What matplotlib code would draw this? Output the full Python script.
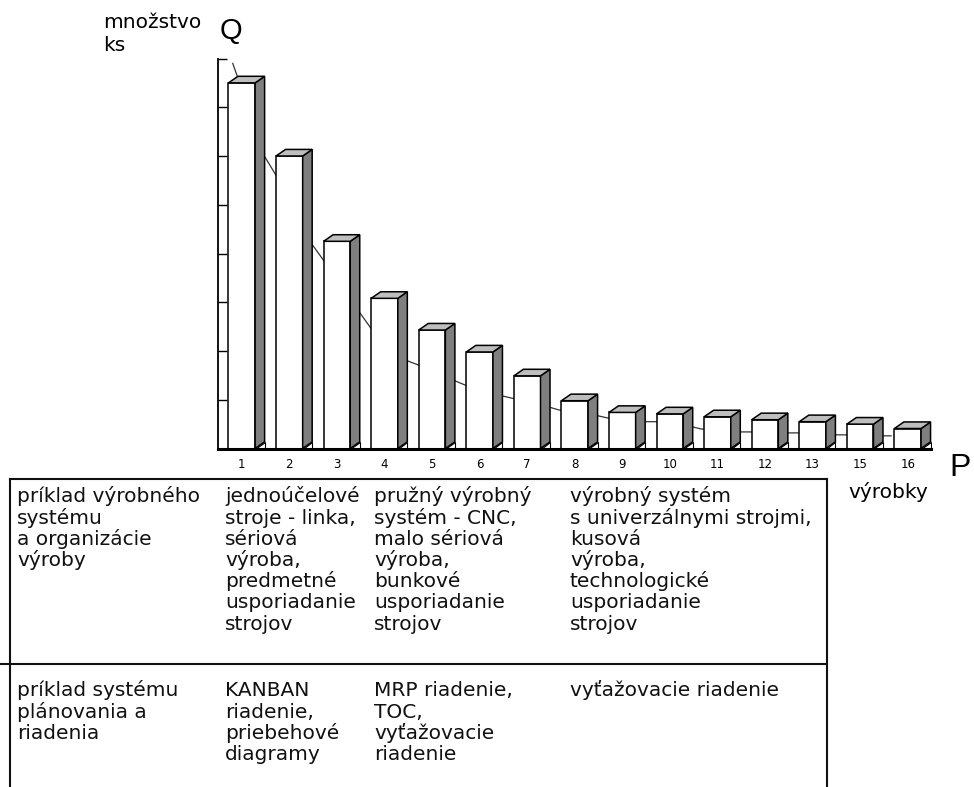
import numpy as np
import matplotlib
matplotlib.use("Agg")
import matplotlib.pyplot as plt
from matplotlib.patches import Polygon
from matplotlib.lines import Line2D

W, H = 974, 787  # canvas size in pixels

# products on the horizontal axis and their quantities (in tick units)
products = ["1", "2", "3", "4", "5", "6", "7", "8", "9", "10", "11", "12", "13", "15", "16"]
quantity = [7.5, 6.0, 4.25, 3.08, 2.43, 1.98, 1.49, 0.98, 0.74, 0.71, 0.65, 0.59, 0.55, 0.50, 0.41]

# trend curve running behind the bars
curve_x = [-0.19, -0.10, 0.48, 0.71, 1.49, 1.72, 2.47, 2.72, 3.45, 3.72, 4.45, 4.70,
           5.47, 5.69, 6.46, 6.67, 7.40, 7.72, 8.34, 8.70, 9.45, 9.66, 10.44, 10.68,
           11.45, 11.70, 12.43, 12.68, 13.44, 13.65]
curve_y = [7.90, 7.65, 5.99, 5.62, 4.17, 3.86, 2.80, 2.46, 1.81, 1.71, 1.40, 1.30,
           1.08, 1.03, 0.85, 0.79, 0.69, 0.62, 0.55, 0.55, 0.45, 0.40, 0.34, 0.34,
           0.32, 0.32, 0.28, 0.28, 0.26, 0.26]

# table under the chart: one list of lines per cell
system_row = [
    ["príklad výrobného", "systému", "a organizácie", "výroby"],
    ["jednoúčelové", "stroje - linka,", "sériová", "výroba,", "predmetné", "usporiadanie", "strojov"],
    ["pružný výrobný", "systém - CNC,", "malo sériová", "výroba,", "bunkové", "usporiadanie", "strojov"],
    ["výrobný systém", "s univerzálnymi strojmi,", "kusová", "výroba,", "technologické",
     "usporiadanie", "strojov"],
]
control_row = [
    ["príklad systému", "plánovania a", "riadenia"],
    ["KANBAN", "riadenie,", "priebehové", "diagramy"],
    ["MRP riadenie,", "TOC,", "vyťažovacie", "riadenie"],
    ["vyťažovacie riadenie"],
]

plt.rcParams["font.family"] = ["DejaVu Sans"]


def fig_xy(x, y):
    """pixel position (from top-left) -> figure fraction"""
    return x / W, 1 - y / H


fig = plt.figure(figsize=(W / 100, H / 100), dpi=100)

# chart area: left spine at x=218, baseline at y=448.5, top at y=58.5
ax = fig.add_axes([218 / W, (H - 448.5) / H, 713.5 / W, 390 / H])
ax.set_xlim(-0.5, 14.5)
ax.set_ylim(0, 8)

x = np.arange(len(products))
bar_w = 0.56
dx, dy = 0.20, 0.135  # depth of the 3d boxes

ax.plot(curve_x, curve_y, color="#333333", lw=0.9, zorder=2)

ax.bar(x, quantity, width=bar_w, color="white", edgecolor="black", linewidth=1.1, zorder=3)
for xi, h in zip(x, quantity):
    xl, xr = xi - bar_w / 2, xi + bar_w / 2
    side = Polygon([(xr, 0), (xr + dx, dy), (xr + dx, h + dy), (xr, h)],
                   closed=True, fc="#7f7f7f", ec="black", lw=1.1, zorder=3)
    top = Polygon([(xl, h), (xr, h), (xr + dx, h + dy), (xl + dx, h + dy)],
                  closed=True, fc="#bebebe", ec="black", lw=1.1, zorder=3)
    foot = Polygon([(xr, 0), (xr + dx, 0), (xr + dx, dy)],
                   closed=True, fc="white", ec="black", lw=0.8, zorder=3)
    ax.add_patch(side)
    ax.add_patch(top)
    ax.add_patch(foot)

for s in ["top", "right"]:
    ax.spines[s].set_visible(False)
ax.spines["left"].set_linewidth(1.3)
ax.spines["bottom"].set_linewidth(2.2)
ax.spines["bottom"].set_zorder(4)

ax.set_yticks(range(1, 9))
ax.tick_params(axis="y", direction="in", length=6.5, width=1.0, labelleft=False)
ax.set_xticks(x, products)
ax.tick_params(axis="x", length=0, pad=6.5, labelsize=8.5)

# axis captions
fig.text(*fig_xy(103, 28), "množstvo", fontsize=14.5, va="baseline")
fig.text(*fig_xy(103, 51), "ks", fontsize=14.5, va="baseline")
fig.text(*fig_xy(220, 38.5), "Q", fontsize=21, family="Liberation Sans", va="baseline")
fig.text(*fig_xy(949, 476), "P", fontsize=23, family="Liberation Sans", va="baseline")
fig.text(*fig_xy(848, 497.5), "výrobky", fontsize=14.5, va="baseline")

# table frame
frame = [
    ((10, 479), (827, 479)),
    ((10, 479), (10, 787)),
    ((827, 479), (827, 787)),
    ((1, 664), (827, 664)),
]
for (x0, y0), (x1, y1) in frame:
    fx0, fy0 = fig_xy(x0, y0)
    fx1, fy1 = fig_xy(x1, y1)
    fig.add_artist(Line2D([fx0, fx1], [fy0, fy1], transform=fig.transFigure,
                          color="#111111", lw=1.5))

col_x = [17, 225, 374, 570]
line_step = 21.2
for row, first_line in [(system_row, 497), (control_row, 691)]:
    for cx, cell in zip(col_x, row):
        for i, txt in enumerate(cell):
            fig.text(*fig_xy(cx, first_line + i * line_step + 5.5), txt,
                     fontsize=14.5, va="baseline", color="#111111")

fig.savefig("out.png", dpi=100)
